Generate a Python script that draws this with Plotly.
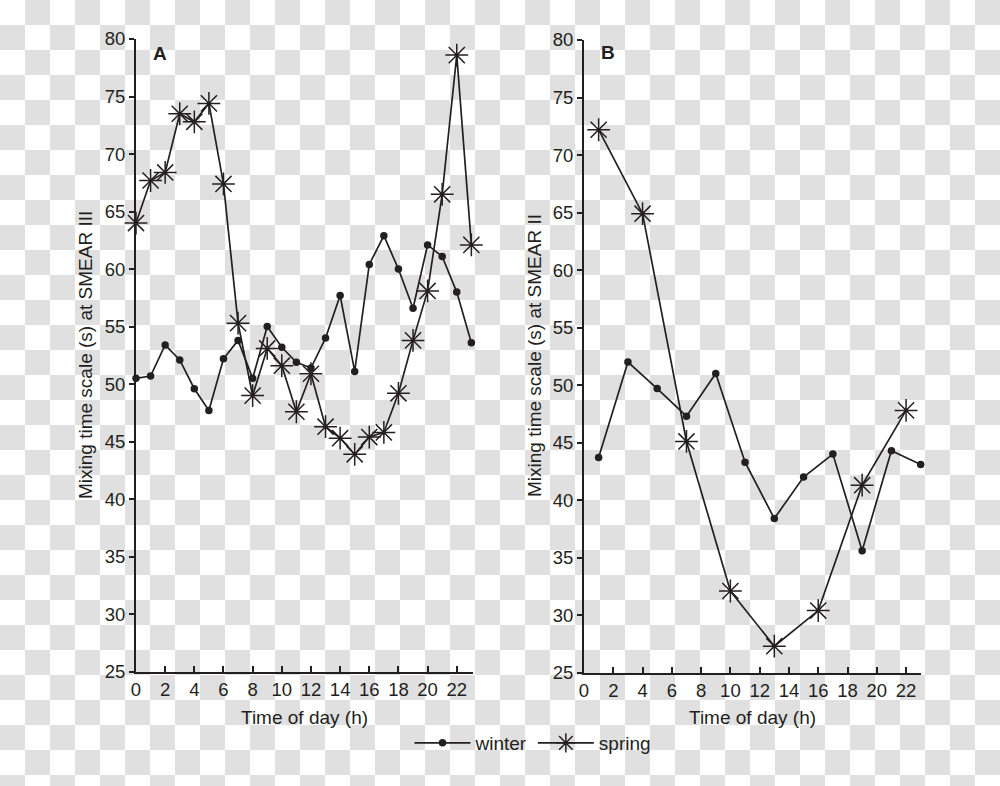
import base64
import plotly.graph_objects as go

# ---------------- data ----------------
hours_a = list(range(24))
winter_a = [50.5, 50.7, 53.4, 52.1, 49.6, 47.7, 52.2, 53.8, 50.5, 55.0, 53.2, 51.9,
            51.4, 54.0, 57.7, 51.1, 60.4, 62.9, 60.0, 56.6, 62.1, 61.1, 58.0, 53.6]
spring_a = [64.0, 67.7, 68.4, 73.5, 72.8, 74.4, 67.4, 55.3, 49.0, 53.1, 51.6, 47.6,
            50.9, 46.3, 45.3, 43.9, 45.4, 45.8, 49.2, 53.8, 58.1, 66.5, 78.6, 62.1]

hours_b_winter = [1, 3, 5, 7, 9, 11, 13, 15, 17, 19, 21, 23]
winter_b = [43.7, 52.0, 49.7, 47.3, 51.0, 43.3, 38.4, 42.0, 44.0, 35.6, 44.3, 43.1]
hours_b_spring = [1, 4, 7, 10, 13, 16, 19, 22]
spring_b = [72.2, 64.9, 45.1, 32.1, 27.3, 30.4, 41.3, 47.8]

x_ticks = list(range(0, 23, 2))
y_ticks = list(range(25, 81, 5))

# ---------------- style ----------------
INK = "#231f20"
FONT = "Liberation Sans, Arial, sans-serif"
W, H = 1000, 786
TICK_FS = 18.5
TITLE_FS = 19

fig = go.Figure()

common_line = dict(color=INK, width=1.7)
winter_marker = dict(symbol="circle", size=7.5, color=INK)
spring_marker = dict(symbol="asterisk-open", size=19, color=INK,
                     line=dict(color=INK, width=1.5))

fig.add_trace(go.Scatter(x=hours_a, y=winter_a, mode="lines+markers", name="winter",
                         line=common_line, marker=winter_marker, cliponaxis=False,
                         xaxis="x", yaxis="y", legendgroup="w"))
fig.add_trace(go.Scatter(x=hours_a, y=spring_a, mode="lines+markers", name="spring",
                         line=common_line, marker=spring_marker, cliponaxis=False,
                         xaxis="x", yaxis="y", legendgroup="s"))
fig.add_trace(go.Scatter(x=hours_b_winter, y=winter_b, mode="lines+markers", name="winter",
                         line=common_line, marker=winter_marker, showlegend=False,
                         cliponaxis=False, xaxis="x2", yaxis="y2", legendgroup="w"))
fig.add_trace(go.Scatter(x=hours_b_spring, y=spring_b, mode="lines+markers", name="spring",
                         line=common_line, marker=spring_marker, showlegend=False,
                         cliponaxis=False, xaxis="x2", yaxis="y2", legendgroup="s"))

def xaxis(domain, rng, anchor):
    return dict(domain=domain, range=rng, anchor=anchor,
                tickmode="array", tickvals=x_ticks, ticktext=[str(v) for v in x_ticks],
                ticks="inside", ticklen=6, tickwidth=1.6, tickcolor=INK,
                showline=True, linecolor=INK, linewidth=2,
                showgrid=False, zeroline=False, automargin=False,
                tickfont=dict(family=FONT, size=TICK_FS, color=INK))

def yaxis(domain, anchor):
    return dict(domain=domain, range=[25, 80], anchor=anchor,
                tickmode="array", tickvals=y_ticks, ticktext=[str(v) for v in y_ticks],
                ticks="outside", ticklen=5, tickwidth=1.6, tickcolor=INK,
                showline=True, linecolor=INK, linewidth=2,
                showgrid=False, zeroline=False, automargin=False,
                tickfont=dict(family=FONT, size=TICK_FS, color=INK))

# checkerboard backdrop (as in the reference image)
svg = ('<svg xmlns="http://www.w3.org/2000/svg" width="%d" height="%d">'
       '<defs><pattern id="c" width="50" height="50" patternUnits="userSpaceOnUse">'
       '<rect width="50" height="50" fill="#ffffff"/>'
       '<rect x="25" y="0" width="25" height="25" fill="#e0e0e0"/>'
       '<rect x="0" y="25" width="25" height="25" fill="#e0e0e0"/>'
       '</pattern></defs><rect width="%d" height="%d" fill="url(#c)"/></svg>') % (W, H, W, H)
bg_src = "data:image/svg+xml;base64," + base64.b64encode(svg.encode()).decode()

def label(text, x_px, y_px, angle=0, bold=False):
    return dict(text=("<b>%s</b>" % text) if bold else text,
                xref="paper", yref="paper", x=x_px / W, y=(H - y_px) / H,
                showarrow=False, xanchor="center", yanchor="middle", textangle=angle,
                font=dict(family=FONT, size=TITLE_FS, color=INK))

fig.update_layout(
    width=W, height=H,
    margin=dict(l=0, r=0, t=0, b=0),
    paper_bgcolor="rgba(0,0,0,0)", plot_bgcolor="rgba(0,0,0,0)",
    font=dict(family=FONT, size=TITLE_FS, color=INK),
    xaxis=xaxis([0.136, 0.4728], [0, 23.1], "y"),
    yaxis=yaxis([0.1454, 0.9504], "x"),
    xaxis2=xaxis([0.584, 0.9207], [0, 23.0], "y2"),
    yaxis2=yaxis([0.1442, 0.9491], "x2"),
    showlegend=True,
    legend=dict(orientation="h", x=0.533, xanchor="center", y=0.0547, yanchor="middle",
                bgcolor="rgba(0,0,0,0)", font=dict(family=FONT, size=TITLE_FS, color=INK),
                itemwidth=56, tracegroupgap=0),
    annotations=[
        label("A", 160, 53, bold=True),
        label("B", 608, 52, bold=True),
        label("Time of day (h)", 304, 717),
        label("Time of day (h)", 752, 717),
        label("Mixing time scale (s) at SMEAR III", 86, 355, angle=-90),
        label("Mixing time scale (s) at SMEAR II", 534, 356, angle=-90),
    ],
    images=[dict(source=bg_src, xref="paper", yref="paper", x=0, y=1, sizex=1, sizey=1,
                 xanchor="left", yanchor="top", sizing="stretch", layer="below")],
)

fig.write_html("out.html")
